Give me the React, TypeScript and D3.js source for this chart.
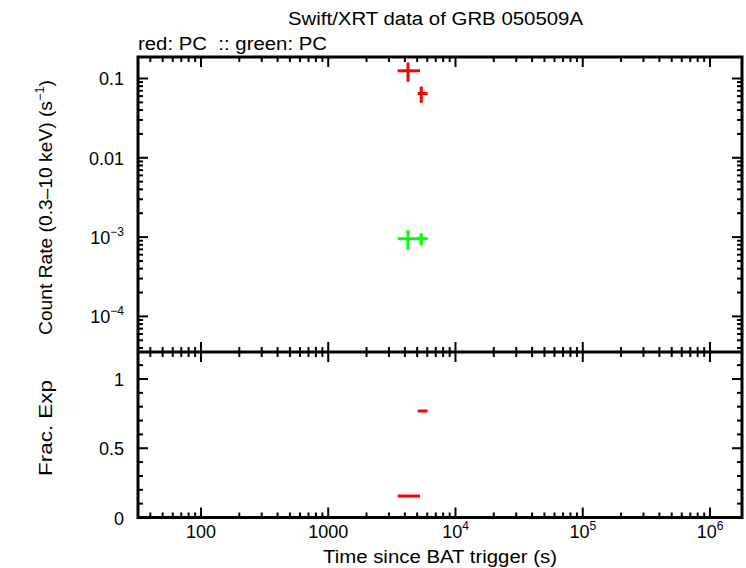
import React, { useEffect, useRef } from "react";
import * as d3 from "d3";

// Swift/XRT light curve, GRB 050509A
const redTime = [4236, 5380];
const redTimeLo = [3513, 5050];
const redTimeHi = [5260, 6040];
const redRate = [0.125, 0.0647];
const redRateLo = [0.0906, 0.0492];
const redRateHi = [0.159, 0.0792];

const greenTime = [4236, 5380];
const greenTimeLo = [3513, 5050];
const greenTimeHi = [5260, 6040];
const greenRate = [9.55e-4, 9.55e-4];
const greenRateLo = [6.93e-4, 7.85e-4];
const greenRateHi = [1.22e-3, 1.12e-3];

const redFracExp = [0.155, 0.769];

const xTickLabels = ["100", "1000", "10^4", "10^5", "10^6"];
const xTickValues = [100, 1000, 1e4, 1e5, 1e6];
const yTickLabels = ["0.1", "0.01", "10^−3", "10^−4"];
const yTickValues = [0.1, 0.01, 1e-3, 1e-4];
const fracTickValues = [0, 0.5, 1];
const fracTickLabels = ["0", "0.5", "1"];

const FONT = "'Liberation Sans', Arial, Helvetica, sans-serif";

function addLabel(
  g: d3.Selection<SVGGElement, unknown, null, undefined>,
  label: string,
  x: number,
  y: number,
  anchor: string
) {
  const t = g
    .append("text")
    .attr("x", x)
    .attr("y", y)
    .attr("text-anchor", anchor)
    .attr("font-family", FONT)
    .attr("font-size", 18);
  const parts = label.split("^");
  t.append("tspan").text(parts[0]);
  if (parts.length > 1) {
    t.append("tspan").attr("font-size", 12).attr("dy", -8).text(parts[1]);
  }
}

function createChart(el: SVGSVGElement) {
  const svg = d3.select(el);
  svg.selectAll("*").remove();

  const L = 138,
    R = 742,
    T = 57,
    MID = 352,
    B = 517.5;

  const x = d3.scaleLog().domain([32, 1.784e6]).range([L, R]);
  const yTop = d3.scaleLog().domain([3.557e-5, 0.1866]).range([MID, T]);
  const yBot = d3.scaleLinear().domain([0, 1.195]).range([B, MID]);

  const g = svg.append("g");

  // log minor/major ticks
  const logTicks = (lo: number, hi: number) => {
    const major: number[] = [];
    const minor: number[] = [];
    for (let e = Math.floor(Math.log10(lo)); e <= Math.ceil(Math.log10(hi)); e++) {
      for (let m = 1; m < 10; m++) {
        const v = m * Math.pow(10, e);
        if (v < lo || v > hi) continue;
        if (m === 1) major.push(v);
        else minor.push(v);
      }
    }
    return { major, minor };
  };

  const tickStroke = (sel: any) => sel.attr("stroke", "#000").attr("stroke-width", 2);

  // x ticks on all four horizontal edges
  const xt = logTicks(32, 1.784e6);
  const xEdges: [number, number][] = [
    [T, 1],
    [MID, -1],
    [MID, 1],
    [B, -1],
  ];
  xEdges.forEach(([y0, dir]) => {
    xt.major.forEach((v) =>
      tickStroke(g.append("line"))
        .attr("x1", x(v))
        .attr("x2", x(v))
        .attr("y1", y0)
        .attr("y2", y0 + dir * 10)
    );
    xt.minor.forEach((v) =>
      tickStroke(g.append("line"))
        .attr("x1", x(v))
        .attr("x2", x(v))
        .attr("y1", y0)
        .attr("y2", y0 + dir * 5)
    );
  });

  // y ticks top panel
  const yt = logTicks(3.557e-5, 0.1866);
  [
    [L, 1],
    [R, -1],
  ].forEach(([x0, dir]) => {
    yt.major.forEach((v) =>
      tickStroke(g.append("line"))
        .attr("x1", x0)
        .attr("x2", x0 + dir * 10)
        .attr("y1", yTop(v))
        .attr("y2", yTop(v))
    );
    yt.minor.forEach((v) =>
      tickStroke(g.append("line"))
        .attr("x1", x0)
        .attr("x2", x0 + dir * 5)
        .attr("y1", yTop(v))
        .attr("y2", yTop(v))
    );
    // y ticks bottom panel
    d3.range(0, 12).forEach((i) => {
      const v = i / 10;
      const len = i % 5 === 0 ? 10 : 5;
      tickStroke(g.append("line"))
        .attr("x1", x0)
        .attr("x2", x0 + dir * len)
        .attr("y1", yBot(v))
        .attr("y2", yBot(v));
    });
  });

  // frames
  g.append("rect")
    .attr("x", L)
    .attr("y", T)
    .attr("width", R - L)
    .attr("height", B - T)
    .attr("fill", "none")
    .attr("stroke", "#000")
    .attr("stroke-width", 3);
  g.append("line")
    .attr("x1", L)
    .attr("x2", R)
    .attr("y1", MID)
    .attr("y2", MID)
    .attr("stroke", "#000")
    .attr("stroke-width", 3);

  // tick labels
  xTickValues.forEach((v, i) => addLabel(g, xTickLabels[i], x(v), 538, "middle"));
  yTickValues.forEach((v, i) => addLabel(g, yTickLabels[i], 124, yTop(v) + 7, "end"));
  fracTickValues.forEach((v, i) => addLabel(g, fracTickLabels[i], 124, yBot(v) + 7, "end"));

  // titles (the original font is a bit wider, so stretch to the measured widths)
  const txt = (s: string, xx: number, yy: number, anchor: string, len: number, rot = false) => {
    const t = g
      .append("text")
      .attr("font-family", FONT)
      .attr("font-size", 18)
      .attr("text-anchor", anchor)
      .attr("textLength", len)
      .attr("lengthAdjust", "spacingAndGlyphs")
      .text(s);
    if (rot) t.attr("transform", `translate(${xx},${yy}) rotate(-90)`);
    else t.attr("x", xx).attr("y", yy);
    return t;
  };
  txt("Swift/XRT data of GRB 050509A", 435.5, 25, "middle", 295);
  txt("red: PC  :: green: PC", 138, 50, "start", 189).attr("xml:space", "preserve");
  txt("Time since BAT trigger (s)", 440, 563, "middle", 234);
  txt("Frac. Exp", 52, 428, "middle", 96, true);
  const yl = g
    .append("text")
    .attr("font-family", FONT)
    .attr("font-size", 18)
    .attr("text-anchor", "middle")
    .attr("textLength", 255)
    .attr("lengthAdjust", "spacingAndGlyphs")
    .attr("transform", `translate(52,207.5) rotate(-90)`);
  yl.append("tspan").text("Count Rate (0.3–10 keV) (s");
  yl.append("tspan").attr("font-size", 12).attr("dy", -8).text("−1");
  yl.append("tspan").attr("dy", 8).text(")");

  // error crosses
  const cross = (
    t: number[],
    tLo: number[],
    tHi: number[],
    r: number[],
    rLo: number[],
    rHi: number[],
    color: string
  ) => {
    t.forEach((tv, i) => {
      g.append("line")
        .attr("x1", x(tLo[i]))
        .attr("x2", x(tHi[i]))
        .attr("y1", yTop(r[i]))
        .attr("y2", yTop(r[i]))
        .attr("stroke", color)
        .attr("stroke-width", 3);
      g.append("line")
        .attr("x1", x(tv))
        .attr("x2", x(tv))
        .attr("y1", yTop(rLo[i]))
        .attr("y2", yTop(rHi[i]))
        .attr("stroke", color)
        .attr("stroke-width", 3);
    });
  };
  cross(greenTime, greenTimeLo, greenTimeHi, greenRate, greenRateLo, greenRateHi, "#00ff00");
  cross(redTime, redTimeLo, redTimeHi, redRate, redRateLo, redRateHi, "#ff0000");

  // fractional exposure
  redFracExp.forEach((f, i) => {
    g.append("line")
      .attr("x1", x(redTimeLo[i]))
      .attr("x2", x(redTimeHi[i]))
      .attr("y1", yBot(f))
      .attr("y2", yBot(f))
      .attr("stroke", "#ff0000")
      .attr("stroke-width", 3);
  });
}

export default function App() {
  const ref = useRef<SVGSVGElement>(null);
  useEffect(() => {
    if (ref.current) createChart(ref.current);
  }, []);
  return (
    <svg
      ref={ref}
      width={746}
      height={568}
      style={{ position: "absolute", left: 0, top: 0, background: "#fff" }}
    />
  );
}
